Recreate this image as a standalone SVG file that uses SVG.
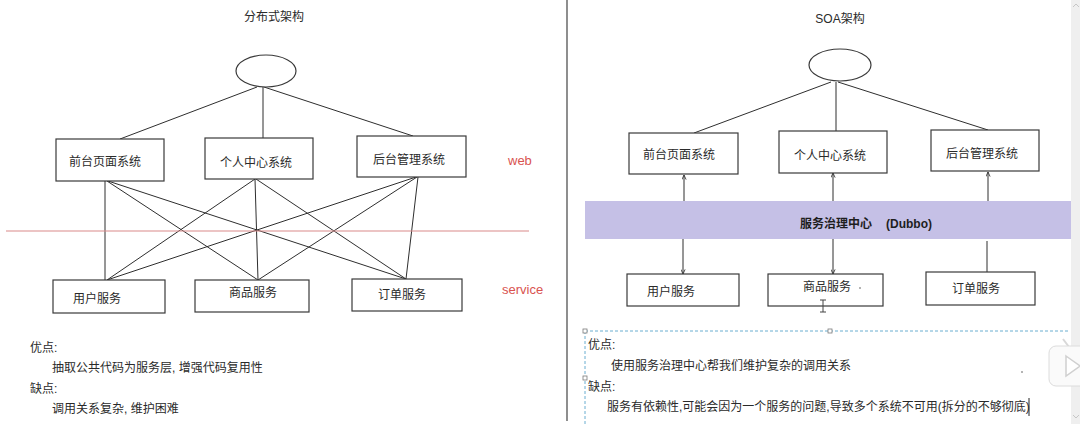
<svg xmlns="http://www.w3.org/2000/svg" width="1080" height="424" viewBox="0 0 1080 424">
<defs>
<style>
.t{font-family:"Liberation Sans","Noto Sans CJK SC",sans-serif;font-size:12px;fill:#2a2a2a}
.c{text-anchor:middle}
.box{fill:#fff;stroke:#3a3a3a;stroke-width:1.2}
.ln{stroke:#2e2e2e;stroke-width:1;fill:none}
.red{font-family:"Liberation Sans",sans-serif;font-size:13px;fill:#d9534f}
.dash{stroke:#6aaed0;stroke-width:1;stroke-dasharray:3,2;fill:none}
.hd{fill:#fff;stroke:#7a7a7a;stroke-width:0.8}
</style>
<marker id="ah" viewBox="0 0 6 6" refX="5.5" refY="3" markerWidth="5" markerHeight="5" orient="auto" markerUnits="userSpaceOnUse">
<path d="M0,0.5 L5.5,3 L0,5.5" fill="none" stroke="#2e2e2e" stroke-width="1"/>
</marker>
</defs>
<rect width="1080" height="424" fill="#fff"/>

<!-- left panel -->
<text class="t c" x="274" y="21">分布式架构</text>
<g id="connectors-left">
<line class="ln" x1="257" y1="87" x2="120" y2="139"/>
<line class="ln" x1="263" y1="87" x2="263" y2="138"/>
<line class="ln" x1="264" y1="87" x2="413" y2="136"/>
<line class="ln" x1="105" y1="181" x2="105" y2="280"/>
<line class="ln" x1="107" y1="181" x2="258" y2="280"/>
<line class="ln" x1="108" y1="181" x2="406" y2="279"/>
<line class="ln" x1="255" y1="179" x2="107" y2="280"/>
<line class="ln" x1="255" y1="179" x2="258" y2="280"/>
<line class="ln" x1="256" y1="179" x2="406" y2="279"/>
<line class="ln" x1="416" y1="177" x2="107" y2="280"/>
<line class="ln" x1="417" y1="177" x2="258" y2="280"/>
<line class="ln" x1="418" y1="177" x2="406" y2="279"/>
</g>
<line x1="6" y1="231" x2="529" y2="231" stroke="#d98a8a" stroke-width="1.2"/>
<g id="l-root"><ellipse cx="266" cy="71" rx="30" ry="16" class="box"/></g>
<g id="l-front"><rect class="box" x="56" y="139" width="108" height="42"/><text class="t c" x="105" y="166">前台页面系统</text></g>
<g id="l-user-center"><rect class="box" x="205" y="138" width="108" height="41"/><text class="t c" x="256" y="167">个人中心系统</text></g>
<g id="l-admin"><rect class="box" x="357" y="136" width="109" height="41"/><text class="t c" x="409" y="164">后台管理系统</text></g>
<g id="l-user-svc"><rect class="box" x="53" y="280" width="112" height="33"/><text class="t c" x="97" y="303">用户服务</text></g>
<g id="l-goods-svc"><rect class="box" x="195" y="280" width="114" height="32"/><text class="t c" x="253" y="297">商品服务</text></g>
<g id="l-order-svc"><rect class="box" x="352" y="279" width="110" height="32"/><text class="t c" x="402" y="299">订单服务</text></g>
<text class="red" x="508" y="165">web</text>
<text class="red" x="502" y="294">service</text>
<text class="t" x="30" y="352">优点:</text>
<text class="t" x="52" y="372">抽取公共代码为服务层, 增强代码复用性</text>
<text class="t" x="30" y="393">缺点:</text>
<text class="t" x="52" y="413">调用关系复杂, 维护困难</text>

<!-- separator -->
<line x1="567" y1="0" x2="567" y2="421" stroke="#444" stroke-width="1.2"/>

<!-- right panel -->
<rect x="1071" y="0" width="9" height="424" fill="#efefef"/>
<path d="M1073,7 L1076,4 L1079,7" fill="none" stroke="#bbb" stroke-width="0.8"/>
<path d="M1073,415 L1076,418 L1079,415" fill="none" stroke="#bbb" stroke-width="0.8"/>
<text class="t c" x="840" y="23">SOA架构</text>
<g id="r-band"><rect x="585" y="201" width="486" height="38" fill="#c5c0e6"/>
<text x="800" y="228" style="font-family:'Liberation Sans','Noto Sans CJK SC',sans-serif;font-size:12px;font-weight:bold;fill:#1e1e1e">服务治理中心<tspan x="886">(Dubbo)</tspan></text></g>
<g id="connectors-right">
<line class="ln" x1="831" y1="82" x2="694" y2="133"/>
<line class="ln" x1="836" y1="82" x2="836" y2="131"/>
<line class="ln" x1="838" y1="82" x2="988" y2="130"/>
<line class="ln" x1="684" y1="201" x2="684" y2="175" marker-end="url(#ah)"/>
<line class="ln" x1="833" y1="201" x2="833" y2="173" marker-end="url(#ah)"/>
<line class="ln" x1="988" y1="201" x2="988" y2="172" marker-end="url(#ah)"/>
<line class="ln" x1="683" y1="239" x2="683" y2="274" marker-end="url(#ah)"/>
<line class="ln" x1="833" y1="239" x2="833" y2="274" marker-end="url(#ah)"/>
<line class="ln" x1="987" y1="241" x2="987" y2="272"/>
</g>
<g id="r-root"><ellipse cx="840" cy="65" rx="31" ry="16" class="box"/></g>
<g id="r-front"><rect class="box" x="629" y="133" width="109" height="41"/><text class="t c" x="679" y="159">前台页面系统</text></g>
<g id="r-user-center"><rect class="box" x="779" y="131" width="108" height="42"/><text class="t c" x="830" y="160">个人中心系统</text></g>
<g id="r-admin"><rect class="box" x="931" y="130" width="108" height="41"/><text class="t c" x="982" y="158">后台管理系统</text></g>
<g id="r-user-svc"><rect class="box" x="627" y="274" width="112" height="32"/><text class="t c" x="671" y="296">用户服务</text></g>
<g id="r-goods-svc"><rect class="box" x="768" y="274" width="115" height="32"/><text class="t c" x="827" y="291">商品服务</text></g>
<g id="r-order-svc"><rect class="box" x="926" y="272" width="109" height="33"/><text class="t c" x="976" y="293">订单服务</text></g>
<circle cx="860" cy="288" r="0.8" fill="#555"/>
<path d="M820,300 H826 M823,300 V312 M820,312 H826" stroke="#444" stroke-width="1" fill="none"/>

<line class="dash" x1="585" y1="331" x2="1070" y2="331"/>
<line class="dash" x1="585" y1="331" x2="585" y2="424"/>
<rect class="hd" x="583" y="329" width="4" height="4"/>
<rect class="hd" x="828" y="329" width="4" height="4"/>
<rect class="hd" x="583" y="376" width="4" height="4"/>

<text class="t" x="588" y="349">优点:</text>
<text class="t" x="611" y="370">使用服务治理中心帮我们维护复杂的调用关系</text>
<text class="t" x="588" y="391">缺点:</text>
<text class="t" x="607" y="411">服务有依赖性,可能会因为一个服务的问题,导致多个系统不可用(拆分的不够彻底)</text>
<line x1="1029" y1="398" x2="1029" y2="416" stroke="#222" stroke-width="1"/>
<circle cx="1022" cy="372" r="0.8" fill="#555"/>

<!-- overlay play button -->
<g id="play">
<path d="M1063,339 L1069,347" stroke="#d8d8d8" stroke-width="2" fill="none"/>
<rect x="1049" y="346" width="40" height="40" rx="7" fill="#fafafa" stroke="#dcdcdc" stroke-width="1"/>
<path d="M1066,356 L1080,366 L1066,376 Z" fill="#fff" stroke="#d0d0d0" stroke-width="1.5"/>
</g>
</svg>
